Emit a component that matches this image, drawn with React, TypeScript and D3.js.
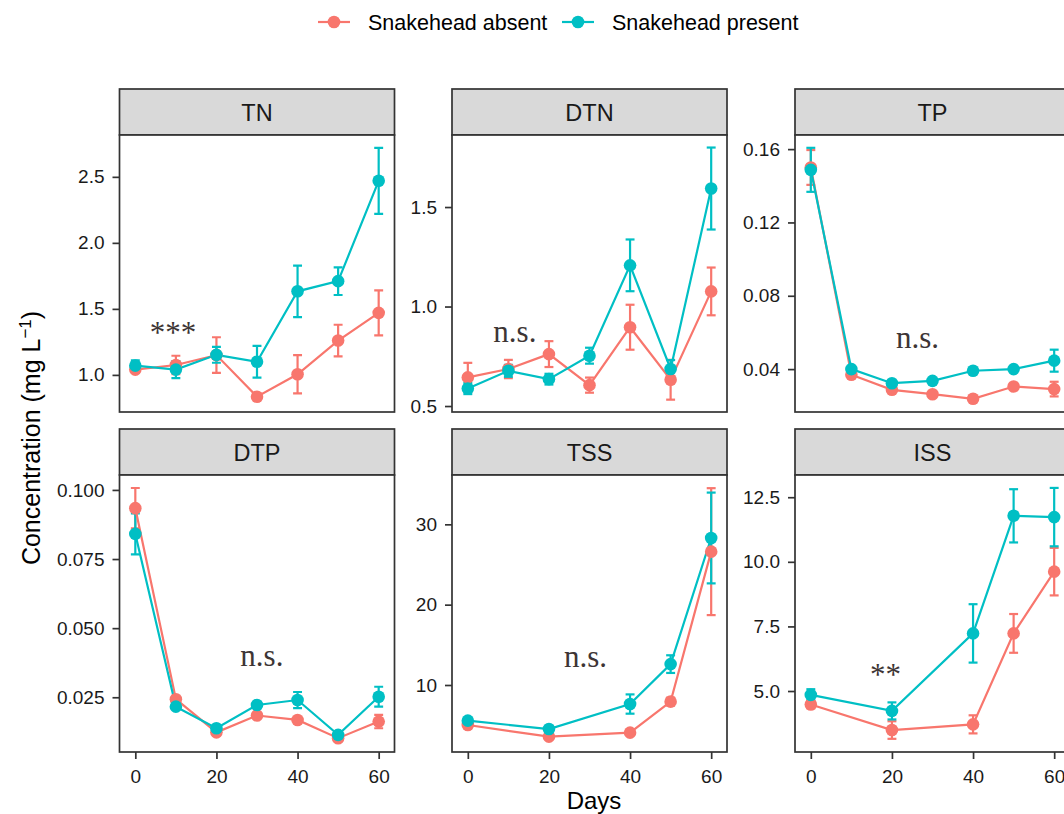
import React, { useRef, useEffect } from 'react';
import * as d3 from 'd3';

// Sampling days
const days7 = [0, 10, 20, 30, 40, 50, 60];
const days5 = [0, 20, 40, 50, 60];

// TN
const tnAbsent = [1.04, 1.075, 1.15, 0.835, 1.005, 1.26, 1.47];
const tnAbsentErr = [0.02, 0.07, 0.135, 0.01, 0.145, 0.12, 0.17];
const tnPresent = [1.07, 1.04, 1.152, 1.1, 1.633, 1.71, 2.47];
const tnPresentErr = [0.04, 0.065, 0.06, 0.12, 0.195, 0.105, 0.25];

// DTN
const dtnAbsent = [0.644, 0.686, 0.761, 0.605, 0.896, 0.632, 1.076];
const dtnAbsentErr = [0.073, 0.046, 0.065, 0.038, 0.113, 0.1, 0.12];
const dtnPresent = [0.588, 0.677, 0.635, 0.753, 1.207, 0.686, 1.593];
const dtnPresentErr = [0.028, 0.03, 0.027, 0.04, 0.13, 0.045, 0.206];

// TP
const tpAbsent = [0.15, 0.0369, 0.0287, 0.0263, 0.0238, 0.0305, 0.0291];
const tpAbsentErr = [0.0095, 0.001, 0.001, 0.001, 0.001, 0.001, 0.004];
const tpPresent = [0.1487, 0.04, 0.0323, 0.0336, 0.0391, 0.04, 0.0446];
const tpPresentErr = [0.012, 0.001, 0.001, 0.001, 0.001, 0.001, 0.006];

// DTP
const dtpAbsent = [0.0934, 0.0243, 0.0123, 0.0184, 0.0168, 0.0102, 0.0162];
const dtpAbsentErr = [0.0073, 0.0008, 0.0006, 0.0008, 0.0008, 0.0006, 0.0024];
const dtpPresent = [0.0841, 0.0216, 0.0138, 0.0222, 0.024, 0.0114, 0.0252];
const dtpPresentErr = [0.0074, 0.0008, 0.0008, 0.0008, 0.0029, 0.0008, 0.0036];

// TSS
const tssAbsent = [5.02, 3.57, 4.07, 7.93, 26.6];
const tssAbsentErr = [0.3, 0.2, 0.2, 0.5, 7.9];
const tssPresent = [5.56, 4.52, 7.63, 12.6, 28.3];
const tssPresentErr = [0.3, 0.2, 1.2, 1.1, 5.65];

// ISS
const issAbsent = [4.48, 3.49, 3.71, 7.23, 9.62];
const issAbsentErr = [0.15, 0.34, 0.35, 0.75, 0.92];
const issPresent = [4.85, 4.23, 7.23, 11.78, 11.73];
const issPresentErr = [0.22, 0.33, 1.13, 1.03, 1.13];

// axis domains / ticks per facet
const yDomains: [number, number][] = [
  [0.719, 2.817], [0.47, 1.862], [0.0166, 0.1677],
  [0.0052, 0.1054], [1.66, 36.14], [2.64, 13.36],
];
const yTicks = [
  [1.0, 1.5, 2.0, 2.5], [0.5, 1.0, 1.5], [0.04, 0.08, 0.12, 0.16],
  [0.025, 0.05, 0.075, 0.1], [10, 20, 30], [5, 7.5, 10, 12.5],
];
const yFormats = ['.1f', '.1f', '.2f', '.3f', 'd', '.1f'];
const xTicks = [0, 20, 40, 60];

// significance labels: [day, value, text]
const sigLabels: [number, number, string][] = [
  [9.3, 1.243, '***'], [11.6, 0.824, 'n.s.'], [26.3, 0.0517, 'n.s.'],
  [31.2, 0.0363, 'n.s.'], [29.0, 12.24, 'n.s.'], [18.4, 5.23, '**'],
];

const facetNames = ['TN', 'DTN', 'TP', 'DTP', 'TSS', 'ISS'];
const groupNames = ['Snakehead absent', 'Snakehead present'];
const colors = ['#F8766D', '#00BFC4'];

const facetData = [
  { days: days7, series: [[tnAbsent, tnAbsentErr], [tnPresent, tnPresentErr]] },
  { days: days7, series: [[dtnAbsent, dtnAbsentErr], [dtnPresent, dtnPresentErr]] },
  { days: days7, series: [[tpAbsent, tpAbsentErr], [tpPresent, tpPresentErr]] },
  { days: days7, series: [[dtpAbsent, dtpAbsentErr], [dtpPresent, dtpPresentErr]] },
  { days: days5, series: [[tssAbsent, tssAbsentErr], [tssPresent, tssPresentErr]] },
  { days: days5, series: [[issAbsent, issAbsentErr], [issPresent, issPresentErr]] },
];

const App: React.FC = () => {
  const svgRef = useRef<SVGSVGElement>(null);
  const width = 1064;
  const height = 814;

  useEffect(() => {
    if (!svgRef.current) return;
    const svg = d3.select(svgRef.current);
    svg.selectAll('*').remove();

    const sans = '"Liberation Sans", Arial, sans-serif';
    const serif = '"Liberation Serif", "Times New Roman", serif';
    const colLefts = [119.5, 452, 795];
    const rowTops = [89, 429];
    const panelW = 275;
    const stripH = 46;
    const panelH = 277;
    const border = '#333333';

    facetData.forEach((f, i) => {
      const col = i % 3;
      const row = Math.floor(i / 3);
      const left = colLefts[col];
      const top = rowTops[row] + stripH;

      const x = d3.scaleLinear().domain([-3.9, 63.9]).range([left, left + panelW]);
      const y = d3.scaleLinear().domain(yDomains[i]).range([top + panelH, top]);

      const g = svg.append('g');

      // strip
      g.append('rect')
        .attr('x', left).attr('y', rowTops[row])
        .attr('width', panelW).attr('height', stripH)
        .attr('fill', '#D9D9D9').attr('stroke', border).attr('stroke-width', 1.7);
      g.append('text')
        .attr('x', left + panelW / 2)
        .attr('y', rowTops[row] + stripH / 2 + 8.5)
        .attr('text-anchor', 'middle')
        .style('font-family', sans).style('font-size', '23.5px').style('fill', '#1a1a1a')
        .text(facetNames[i]);

      // panel background
      g.append('rect')
        .attr('x', left).attr('y', top)
        .attr('width', panelW).attr('height', panelH)
        .attr('fill', '#ffffff');

      // y axis
      const yAxis = g.append('g')
        .attr('transform', `translate(${left},0)`)
        .call(d3.axisLeft(y).tickValues(yTicks[i]).tickSize(7).tickPadding(8)
          .tickFormat(d => d3.format(yFormats[i])(d as number)));
      yAxis.select('.domain').remove();
      yAxis.selectAll('line').attr('stroke', border).attr('stroke-width', 1.7);
      yAxis.selectAll('text')
        .style('font-family', sans).style('font-size', '19px').style('fill', '#1a1a1a');

      // x axis only on bottom row
      if (row === 1) {
        const xAxis = g.append('g')
          .attr('transform', `translate(0,${top + panelH})`)
          .call(d3.axisBottom(x).tickValues(xTicks).tickSize(7).tickPadding(6)
            .tickFormat(d3.format('d')));
        xAxis.select('.domain').remove();
        xAxis.selectAll('line').attr('stroke', border).attr('stroke-width', 1.7);
        xAxis.selectAll('text')
          .attr('dy', '0.95em')
          .style('font-family', sans).style('font-size', '19px').style('fill', '#1a1a1a');
      }

      const clipId = `clip-${i}`;
      g.append('clipPath').attr('id', clipId)
        .append('rect').attr('x', left).attr('y', top).attr('width', panelW).attr('height', panelH);
      const plot = g.append('g').attr('clip-path', `url(#${clipId})`);

      // error bars
      f.series.forEach(([vals, errs], s) => {
        f.days.forEach((d, k) => {
          const lo = y(vals[k] - errs[k]);
          const hi = y(vals[k] + errs[k]);
          plot.append('line')
            .attr('x1', x(d)).attr('x2', x(d)).attr('y1', lo).attr('y2', hi)
            .attr('stroke', colors[s]).attr('stroke-width', 2.2);
          [lo, hi].forEach(yy => {
            plot.append('line')
              .attr('x1', x(d - 1.1)).attr('x2', x(d + 1.1)).attr('y1', yy).attr('y2', yy)
              .attr('stroke', colors[s]).attr('stroke-width', 2.2);
          });
        });
      });

      // lines
      f.series.forEach(([vals], s) => {
        const line = d3.line<number>()
          .x((_, k) => x(f.days[k]))
          .y(v => y(v));
        plot.append('path')
          .datum(vals)
          .attr('fill', 'none')
          .attr('stroke', colors[s])
          .attr('stroke-width', 2.2)
          .attr('d', line);
      });

      // points
      f.series.forEach(([vals], s) => {
        plot.selectAll(`.pt-${s}`)
          .data(vals)
          .enter()
          .append('circle')
          .attr('cx', (_, k) => x(f.days[k]))
          .attr('cy', v => y(v))
          .attr('r', 6.3)
          .attr('fill', colors[s]);
      });

      // significance label
      const [sx, sy, st] = sigLabels[i];
      g.append('text')
        .attr('x', x(sx)).attr('y', y(sy))
        .attr('text-anchor', 'middle')
        .style('font-family', serif).style('font-size', '31px').style('fill', '#3d3535')
        .text(st);

      // panel border
      g.append('rect')
        .attr('x', left).attr('y', top)
        .attr('width', panelW).attr('height', panelH)
        .attr('fill', 'none').attr('stroke', border).attr('stroke-width', 1.7);
    });

    // axis titles
    svg.append('text')
      .attr('x', 594).attr('y', 809)
      .attr('text-anchor', 'middle')
      .style('font-family', sans).style('font-size', '24px').style('fill', '#000')
      .text('Days');

    const yTitle = svg.append('text')
      .attr('transform', 'translate(40,438) rotate(-90)')
      .attr('text-anchor', 'middle')
      .style('font-family', sans).style('font-size', '25px').style('fill', '#000');
    yTitle.append('tspan').text('Concentration (mg L');
    yTitle.append('tspan').attr('dy', -9).style('font-size', '17px').text('\u22121');
    yTitle.append('tspan').attr('dy', 9).text(')');

    // legend
    const legendX = [318, 562];
    groupNames.forEach((name, s) => {
      const lg = svg.append('g').attr('transform', `translate(${legendX[s]},22)`);
      lg.append('line')
        .attr('x1', 0).attr('x2', 32).attr('y1', 0).attr('y2', 0)
        .attr('stroke', colors[s]).attr('stroke-width', 2.2);
      lg.append('circle').attr('cx', 16).attr('cy', 0).attr('r', 6.3).attr('fill', colors[s]);
      lg.append('text')
        .attr('x', 50).attr('y', 7.5)
        .style('font-family', sans).style('font-size', '21.5px').style('fill', '#000')
        .text(name);
    });
  }, []);

  return (
    <svg
      ref={svgRef}
      width={width}
      height={height}
      style={{ position: 'absolute', left: 0, top: 0, background: '#fff', display: 'block' }}
    ></svg>
  );
};

export default App;
